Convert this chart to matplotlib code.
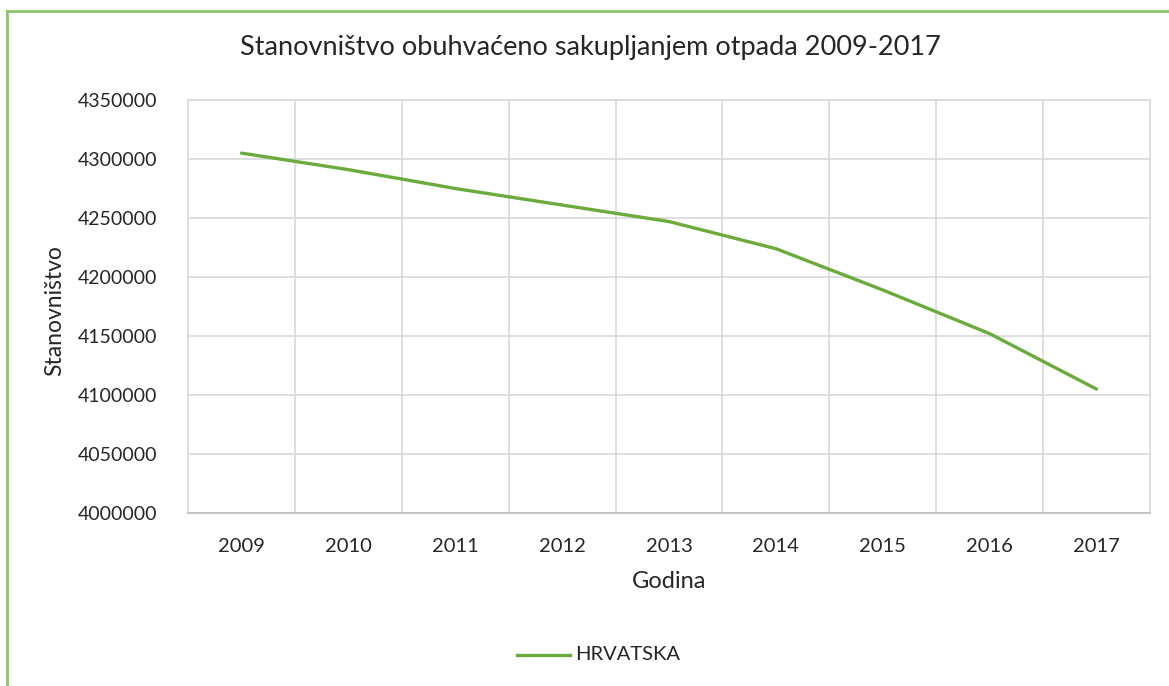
import matplotlib
matplotlib.use("Agg")
import matplotlib.pyplot as plt
from matplotlib.lines import Line2D
from matplotlib.ticker import FixedLocator

# Data
years = ["2009", "2010", "2011", "2012", "2013", "2014", "2015", "2016", "2017"]
population = [4305000, 4291000, 4275000, 4261000, 4247000, 4224000, 4189000, 4152000, 4105000]
series_name = "HRVATSKA"
y_ticks = [4000000, 4050000, 4100000, 4150000, 4200000, 4250000, 4300000, 4350000]

plt.rcParams['font.family'] = ['Lato', 'DejaVu Sans']

green = "#6aab3c"
grid_col = "#d9d9d9"
text_col = "#262626"

W, H = 1169, 686
fig = plt.figure(figsize=(W / 100, H / 100), dpi=100)

# Axes placed to match the plot area of the reference
ax = fig.add_axes([188 / W, 1 - 513 / H, (1150 - 188) / W, (513 - 100) / H])

x = list(range(len(years)))
ax.plot(x, population, color=green, lw=2.4, solid_capstyle="round", zorder=3)

ax.set_xlim(-0.5, len(years) - 0.5)
ax.set_ylim(y_ticks[0], y_ticks[-1])
ax.set_yticks(y_ticks)
ax.set_yticklabels([str(v) for v in y_ticks], fontsize=14, color=text_col)
ax.set_xticks(x)
ax.set_xticklabels(years, fontsize=14.5, color=text_col)
ax.xaxis.set_minor_locator(FixedLocator([i + 0.5 for i in range(len(years) - 1)]))
ax.tick_params(axis="both", which="both", length=0)
ax.tick_params(axis="x", pad=18)
ax.tick_params(axis="y", pad=22)

ax.grid(True, axis="y", which="major", color=grid_col, lw=1.2)
ax.grid(True, axis="x", which="minor", color=grid_col, lw=1.2)
ax.grid(False, axis="x", which="major")
for side in ["left", "right", "top"]:
    ax.spines[side].set_color(grid_col)
    ax.spines[side].set_linewidth(1.2)
ax.spines["bottom"].set_color("#bfbfbf")
ax.spines["bottom"].set_linewidth(1.3)

fig.text(590 / W, 1 - 48 / H, "Stanovništvo obuhvaćeno sakupljanjem otpada 2009-2017",
         ha="center", va="center", fontsize=19.5, color=text_col)
fig.text(55 / W, 1 - 311 / H, "Stanovništvo", rotation=90,
         ha="center", va="center", fontsize=16.5, color=text_col)
fig.text(669 / W, 1 - 582 / H, "Godina", ha="center", va="center",
         fontsize=17, color=text_col)

# Legend drawn below the plot
fig.add_artist(Line2D([517 / W, 570 / W], [1 - 655 / H, 1 - 655 / H],
                      color=green, lw=2.4, transform=fig.transFigure))
fig.text(575 / W, 1 - 655 / H, series_name, ha="left", va="center",
         fontsize=14.5, color=text_col)

# Green chart border (left and top edges visible)
fig.add_artist(Line2D([6.5 / W, 6.5 / W], [0, 1 - 10.5 / H],
                      color="#8cc46a", lw=2, transform=fig.transFigure))
fig.add_artist(Line2D([6.5 / W, 1], [1 - 10.5 / H, 1 - 10.5 / H],
                      color="#8cc46a", lw=2, transform=fig.transFigure))

fig.savefig("out.png", dpi=100)
